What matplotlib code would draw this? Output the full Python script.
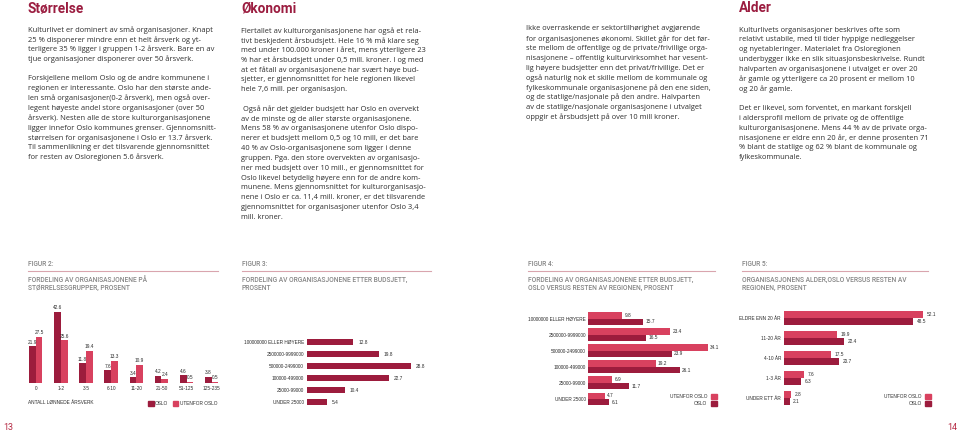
import matplotlib
matplotlib.use("Agg")
import matplotlib.pyplot as plt
from matplotlib.patches import Rectangle
from matplotlib.lines import Line2D
import numpy as np

# ---------------- DATA ----------------
fig2_categories = ["0", "1-2", "3-5", "6-10", "11-20", "21-50", "51-125", "125-235"]
fig2_oslo = [21.9, 42.6, 11.8, 7.6, 3.4, 4.2, 4.6, 3.8]
fig2_utenfor = [27.5, 25.6, 19.4, 13.3, 10.9, 2.4, 0.5, 0.5]

fig3_categories = ["100000000 ELLER HØYERE", "2500000-9999000", "500000-2499000",
                   "100000-499000", "25000-99000", "UNDER 25000"]
fig3_values = [12.8, 19.8, 28.8, 22.7, 10.4, 5.4]

fig4_categories = ["10000000 ELLER HØYERE", "2500000-9999000", "500000-2499000",
                   "100000-499000", "25000-99000", "UNDER 25000"]
fig4_utenfor = [9.8, 23.4, 34.1, 19.2, 6.9, 4.7]
fig4_oslo = [15.7, 16.5, 23.9, 26.1, 11.7, 6.1]

fig5_categories = ["ELDRE ENN 20 ÅR", "11-20 ÅR", "4-10 ÅR", "1-3 ÅR", "UNDER ETT ÅR"]
fig5_utenfor = [52.1, 19.9, 17.5, 7.6, 2.8]
fig5_oslo = [48.5, 22.4, 20.7, 6.3, 2.1]

col1_heading = "Størrelse"
col1_text = """Kulturlivet er dominert av små organisasjoner. Knapt
25 % disponerer mindre enn et helt årsverk og yt-
terligere 35 % ligger i gruppen 1-2 årsverk. Bare en av
tjue organisasjoner disponerer over 50 årsverk.

Forskjellene mellom Oslo og de andre kommunene i
regionen er interessante. Oslo har den største ande-
len små organisasjoner(0-2 årsverk), men også over-
legent høyeste andel store organisasjoner (over 50
årsverk). Nesten alle de store kulturorganisasjonene
ligger innefor Oslo kommunes grenser. Gjennomsnitt-
størrelsen for organisasjonene i Oslo er 13.7 årsverk.
Til sammenlikning er det tilsvarende gjennomsnittet
for resten av Osloregionen 5.6 årsverk."""

col2_heading = "Økonomi"
col2_text = """Flertallet av kulturorganisasjonene har også et rela-
tivt beskjedent årsbudsjett. Hele 16 % må klare seg
med under 100.000 kroner i året, mens ytterligere 23
% har et årsbudsjett under 0,5 mill. kroner. I og med
at et fåtall av organisasjonene har svært høye bud-
sjetter, er gjennomsnittet for hele regionen likevel
hele 7,6 mill. per organisasjon.

 Også når det gjelder budsjett har Oslo en overvekt
av de minste og de aller største organisasjonene.
Mens 58 % av organisasjonene utenfor Oslo dispo-
nerer et budsjett mellom 0,5 og 10 mill, er det bare
40 % av Oslo-organisasjonene som ligger i denne
gruppen. Pga. den store overvekten av organisasjo-
ner med budsjett over 10 mill., er gjennomsnittet for
Oslo likevel betydelig høyere enn for de andre kom-
munene. Mens gjennomsnittet for kulturorganisasjo-
nene i Oslo er ca. 11,4 mill. kroner, er det tilsvarende
gjennomsnittet for organisasjoner utenfor Oslo 3,4
mill. kroner."""

col3_text = """Ikke overraskende er sektortilhørighet avgjørende
for organisasjonenes økonomi. Skillet går for det før-
ste mellom de offentlige og de private/frivillige orga-
nisasjonene – offentlig kulturvirksomhet har vesent-
lig høyere budsjetter enn det privat/frivillige. Det er
også naturlig nok et skille mellom de kommunale og
fylkeskommunale organisasjonene på den ene siden,
og de statlige/nasjonale på den andre. Halvparten
av de statlige/nasjonale organisasjonene i utvalget
oppgir et årsbudsjett på over 10 mill kroner."""

col4_heading = "Alder"
col4_text = """Kulturlivets organisasjoner beskrives ofte som
relativt ustabile, med til tider hyppige nedleggelser
og nyetableringer. Materialet fra Osloregionen
underbygger ikke en slik situasjonsbeskrivelse. Rundt
halvparten av organisasjonene i utvalget er over 20
år gamle og ytterligere ca 20 prosent er mellom 10
og 20 år gamle.

Det er likevel, som forventet, en markant forskjell
i aldersprofil mellom de private og de offentlige
kulturorganisasjonene. Mens 44 % av de private orga-
nisasjonene er eldre enn 20 år, er denne prosenten 71
% blant de statlige og 62 % blant de kommunale og
fylkeskommunale."""

fig_labels = ["FIGUR 2:", "FIGUR 3:", "FIGUR 4:", "FIGUR 5:"]
fig_titles = ["FORDELING AV ORGANISASJONENE PÅ\nSTØRRELSESGRUPPER, PROSENT",
              "FORDELING AV ORGANISASJONENE ETTER BUDSJETT,\nPROSENT",
              "FORDELING AV ORGANISASJONENE ETTER BUDSJETT,\nOSLO VERSUS RESTEN AV REGIONEN, PROSENT",
              "ORGANISASJONENS ALDER,OSLO VERSUS RESTEN AV\nREGIONEN, PROSENT"]
legend_oslo = "OSLO"
legend_utenfor = "UTENFOR OSLO"
fig2_xlabel = "ANTALL LØNNEDE ÅRSVERK"

# ---------------- STYLE ----------------
DARK = "#9c1c3d"
LIGHT = "#d8415f"
HEAD = "#9b1d40"
BODY = "#2f2f2f"
GREY = "#858585"
RULE = "#d9a5ae"
LBL = "#2b2b2b"

W, H = 960, 434
fig = plt.figure(figsize=(9.6, 4.34), dpi=100)
fig.patch.set_facecolor("white")
renderer = fig.canvas.get_renderer()

BODY_FONT = "Open Sans"
HEAD_FONT = "Roboto"
CHART_FONT = "Liberation Sans"
TITLE_FONT = "Roboto"


def fit_size(text, target_px, family, weight="normal"):
    t = fig.text(0, 0, text, fontsize=10, family=family, weight=weight)
    w = t.get_window_extent(renderer).width
    t.remove()
    return 10.0 * target_px / w


def T(x, y, s, **kw):
    return fig.text(x / W, 1 - y / H, s, **kw)


def add_ax(x0, y0, x1, y1):
    ax = fig.add_axes([x0 / W, 1 - y1 / H, (x1 - x0) / W, (y1 - y0) / H])
    ax.set_facecolor("none")
    for s in ax.spines.values():
        s.set_visible(False)
    return ax


body_fs = fit_size("Kulturlivet er dominert av små organisasjoner. Knapt", 185, BODY_FONT)
head_fs = fit_size("Størrelse", 56, HEAD_FONT, "bold")
chart_fs = fit_size(fig2_xlabel, 66, CHART_FONT)
title_fs = fit_size("FORDELING AV ORGANISASJONENE PÅ", 120, TITLE_FONT, "medium")

LS = 9.8


def body(x, y0, text):
    for i, line in enumerate(text.split("\n")):
        if line.strip():
            T(x, y0 + i * LS, line, fontsize=body_fs, family=BODY_FONT, color=BODY,
              va="center_baseline", ha="left")


# headings
T(28, 8.5, col1_heading, fontsize=head_fs, family=HEAD_FONT, weight="bold", color=HEAD, va="center")
T(241, 8.5, col2_heading, fontsize=head_fs, family=HEAD_FONT, weight="bold", color=HEAD, va="center")
T(739, 8.5, col4_heading, fontsize=head_fs, family=HEAD_FONT, weight="bold", color=HEAD, va="center")

body(28, 29, col1_text)
body(241, 30, col2_text)
body(526, 28, col3_text)
body(739, 29, col4_text)

# figure headers
for (x0, x1), lab, tit in zip([(28, 218), (242, 431), (528, 715), (742, 928)], fig_labels, fig_titles):
    T(x0, 264, lab, fontsize=title_fs, family=TITLE_FONT, weight="medium", color=GREY, va="center")
    fig.add_artist(Line2D([x0 / W, x1 / W], [1 - 271 / H, 1 - 271 / H], color=RULE, lw=0.8,
                          transform=fig.transFigure))
    for j, l in enumerate(tit.split("\n")):
        T(x0, 279.5 + j * 8.7, l, fontsize=title_fs, family=TITLE_FONT, weight="medium",
          color=GREY, va="center")

# page numbers
T(3, 428, "13", fontsize=6.5, family=HEAD_FONT, color="#b52a44", va="center")
T(957, 428, "14", fontsize=6.5, family=HEAD_FONT, color="#b52a44", va="center", ha="right")

# ---------------- FIGUR 2 ----------------
ax2 = add_ax(22, 300, 222, 383)
x = np.arange(len(fig2_categories))
bw = 0.266
ax2.bar(x - bw / 2, fig2_oslo, bw, color=DARK)
ax2.bar(x + bw / 2, fig2_utenfor, bw, color=LIGHT)
ax2.set_xlim(-0.545, 7.41)
ax2.set_ylim(0, 83 / 1.67)
for xi, v in zip(x, fig2_oslo):
    ax2.annotate(f"{v:.1f}", (xi - bw / 2, v), xytext=(0, 1.2), textcoords="offset points",
                 ha="center", va="bottom", fontsize=chart_fs, family=CHART_FONT, color=LBL)
for xi, v in zip(x, fig2_utenfor):
    ax2.annotate(f"{v:.1f}", (xi + bw / 2, v), xytext=(0, 1.2), textcoords="offset points",
                 ha="center", va="bottom", fontsize=chart_fs, family=CHART_FONT, color=LBL)
ax2.set_xticks(x)
ax2.set_xticklabels(fig2_categories, fontsize=chart_fs, family=CHART_FONT, color=LBL)
ax2.tick_params(axis="x", length=0, pad=2.5)
ax2.set_yticks([])
T(28, 403, fig2_xlabel, fontsize=chart_fs, family=CHART_FONT, color=LBL, va="center")


def sq(x0, y0, c):
    fig.add_artist(Rectangle((x0 / W, 1 - (y0 + 5.5) / H), 5.5 / W, 5.5 / H, color=c,
                             transform=fig.transFigure))


sq(148, 400.5, DARK)
T(155, 403.5, legend_oslo, fontsize=chart_fs, family=CHART_FONT, color=LBL, va="center")
sq(172.5, 400.5, LIGHT)
T(179.5, 403.5, legend_utenfor, fontsize=chart_fs, family=CHART_FONT, color=LBL, va="center")

# ---------------- FIGUR 3 ----------------
ax3 = add_ax(307, 330, 440, 412)
r = np.arange(len(fig3_categories))
ax3.barh(r, fig3_values, 0.5, color=DARK)
ax3.set_xlim(0, 133 / 3.62)
ax3.set_ylim(5.83, -1)
for ri, v in zip(r, fig3_values):
    ax3.annotate(f"{v:.1f}", (v, ri), xytext=(3.5, 0), textcoords="offset points",
                 ha="left", va="center", fontsize=chart_fs, family=CHART_FONT, color=LBL)
ax3.set_yticks(r)
ax3.set_yticklabels(fig3_categories, fontsize=chart_fs, family=CHART_FONT, color=LBL)
ax3.tick_params(axis="y", length=0, pad=2.2)
ax3.set_xticks([])

# ---------------- FIGUR 4 ----------------
ax4 = add_ax(588, 305, 720, 410)
g = np.arange(len(fig4_categories))
bh = 0.40
ax4.barh(g - bh / 2, fig4_utenfor, bh, color=LIGHT)
ax4.barh(g + bh / 2, fig4_oslo, bh, color=DARK)
ax4.set_xlim(0, 132 / 3.52)
ax4.set_ylim(5.683, -0.839)
for gi, v in zip(g, fig4_utenfor):
    ax4.annotate(f"{v:.1f}", (v, gi - bh / 2), xytext=(1.5, 0), textcoords="offset points",
                 ha="left", va="center", fontsize=chart_fs, family=CHART_FONT, color=LBL)
for gi, v in zip(g, fig4_oslo):
    ax4.annotate(f"{v:.1f}", (v, gi + bh / 2), xytext=(1.5, 0), textcoords="offset points",
                 ha="left", va="center", fontsize=chart_fs, family=CHART_FONT, color=LBL)
ax4.set_yticks(g)
ax4.set_yticklabels(fig4_categories, fontsize=chart_fs, family=CHART_FONT, color=LBL)
ax4.tick_params(axis="y", length=0, pad=1.5)
ax4.set_xticks([])

T(707, 396, legend_utenfor, fontsize=chart_fs, family=CHART_FONT, color=LBL, va="center", ha="right")
sq(711, 393.5, LIGHT)
T(707, 403.5, legend_oslo, fontsize=chart_fs, family=CHART_FONT, color=LBL, va="center", ha="right")
sq(711, 400.5, DARK)

# ---------------- FIGUR 5 ----------------
ax5 = add_ax(784, 305, 935, 410)
g5 = np.arange(len(fig5_categories))
bh5 = 0.35
ax5.barh(g5 - bh5 / 2, fig5_utenfor, bh5, color=LIGHT)
ax5.barh(g5 + bh5 / 2, fig5_oslo, bh5, color=DARK)
ax5.set_xlim(0, 151 / 2.67)
ax5.set_ylim(4.6, -0.65)
for gi, v in zip(g5, fig5_utenfor):
    ax5.annotate(f"{v:.1f}", (v, gi - bh5 / 2), xytext=(2.5, 0), textcoords="offset points",
                 ha="left", va="center", fontsize=chart_fs, family=CHART_FONT, color=LBL)
for gi, v in zip(g5, fig5_oslo):
    ax5.annotate(f"{v:.1f}", (v, gi + bh5 / 2), xytext=(2.5, 0), textcoords="offset points",
                 ha="left", va="center", fontsize=chart_fs, family=CHART_FONT, color=LBL)
ax5.set_yticks(g5)
ax5.set_yticklabels(fig5_categories, fontsize=chart_fs, family=CHART_FONT, color=LBL)
ax5.tick_params(axis="y", length=0, pad=2.2)
ax5.set_xticks([])

T(922, 396, legend_utenfor, fontsize=chart_fs, family=CHART_FONT, color=LBL, va="center", ha="right")
sq(925, 393.5, LIGHT)
T(922, 403.5, legend_oslo, fontsize=chart_fs, family=CHART_FONT, color=LBL, va="center", ha="right")
sq(925, 400.5, DARK)

fig.savefig("out.png", dpi=100, facecolor="white")
